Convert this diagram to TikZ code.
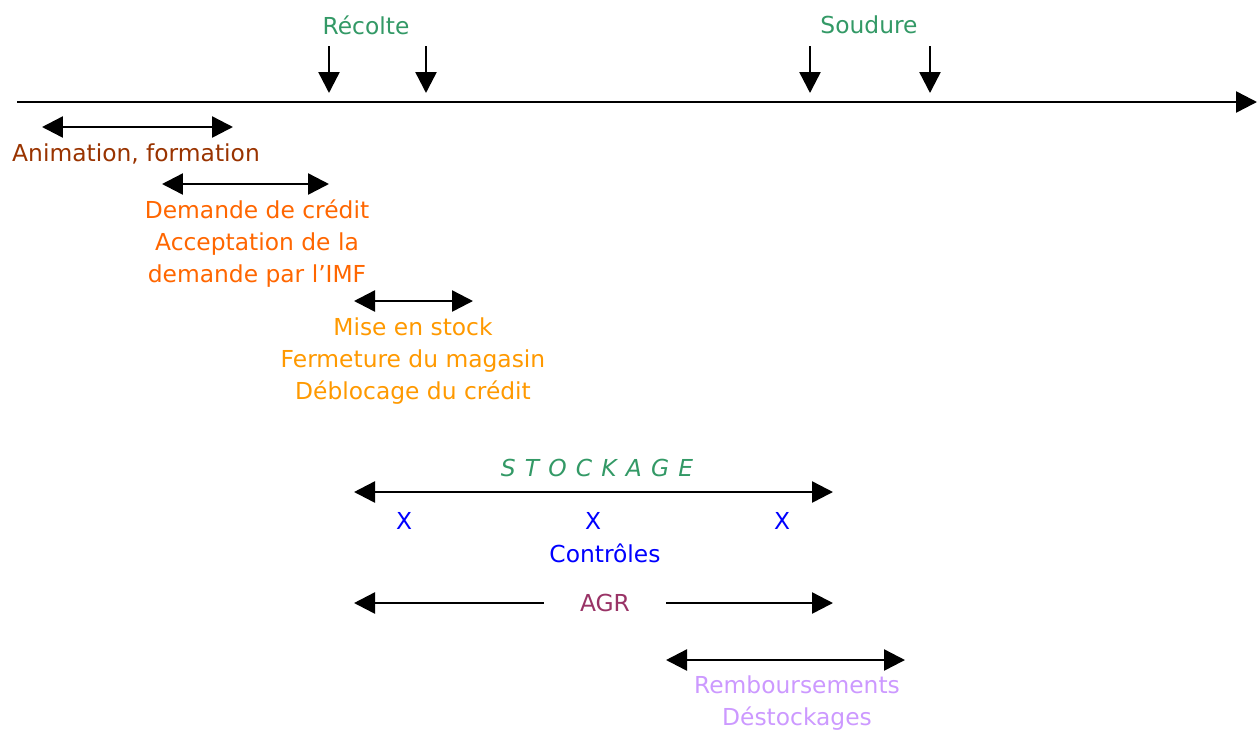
\documentclass[tikz,border=0pt]{standalone}
\usepackage{fontspec}
\setmainfont{DejaVu Sans}
\usetikzlibrary{arrows.meta}
\definecolor{vert}{RGB}{51,153,102}
\definecolor{brun}{RGB}{153,51,0}
\definecolor{orange1}{RGB}{255,102,0}
\definecolor{orange2}{RGB}{255,153,0}
\definecolor{bleu}{RGB}{0,0,255}
\definecolor{prune}{RGB}{153,51,102}
\definecolor{lilas}{RGB}{204,153,255}

\begin{document}
\begin{tikzpicture}[x=0.02cm,y=-0.02cm,
  >={Triangle[length=0.42cm,width=0.42cm]},
  fl/.style={->,line width=1.4pt},
  dur/.style={<->,line width=1.4pt},
  lab/.style={inner sep=0pt,align=center,font=\fontsize{13.3}{18.2}\selectfont}]
 \useasboundingbox (0,0) rectangle (1257,731);

 % axe du temps
 \coordinate (t0) at (17,102);
 \coordinate (t1) at (1257,102);
 \draw[fl] (t0) -- (t1);
 \foreach \x/\n in {329/a,426/b,810/c,930/d}{
  \coordinate (h\n) at (\x,46);
  \coordinate (b\n) at (\x,93);
  \draw[fl] (h\n) -- (b\n);
 }
 \node[lab,text=vert] (rec) at (366,25) {Récolte};
 \node[lab,text=vert] (soud) at (869,25) {Soudure};

 % animation
 \coordinate (an0) at (42,127);
 \coordinate (an1) at (233,127);
 \draw[dur] (an0) -- (an1);
 \node[lab,text=brun] (anim) at (136,154) {Animation, formation};

 % credit
 \coordinate (cr0) at (162,184);
 \coordinate (cr1) at (329,184);
 \draw[dur] (cr0) -- (cr1);
 \node[lab,text=orange1] (dem) at (257,244) {Demande de crédit\\Acceptation de la\\demande par l'IMF};

 % mise en stock
 \coordinate (ms0) at (354,301);
 \coordinate (ms1) at (473,301);
 \draw[dur] (ms0) -- (ms1);
 \node[lab,text=orange2] (mise) at (413,361) {Mise en stock\\Fermeture du magasin\\Déblocage du crédit};

 % stockage
 \node[lab,text=vert,font=\fontsize{13.3}{18.2}\selectfont\itshape] (stock) at (597,468) {S\kern1pt\ T\kern1pt\ O\kern1pt\ C\kern1pt\ K\kern1pt\ A\kern1pt\ G\kern1pt\ E};
 \coordinate (st0) at (354,492);
 \coordinate (st1) at (833,492);
 \draw[dur] (st0) -- (st1);
 \node[lab,text=bleu] (x1) at (404,521) {X};
 \node[lab,text=bleu] (x2) at (593,521) {X};
 \node[lab,text=bleu] (x3) at (782,521) {X};
 \node[lab,text=bleu] (ctrl) at (605,553) {Contrôles};

 % AGR
 \node[lab,text=prune,inner xsep=0.72cm] (agr) at (605,603) {AGR};
 \coordinate (ag0) at (354,603);
 \coordinate (ag1) at (833,603);
 \draw[fl] (agr.west) -- (ag0);
 \draw[fl] (agr.east) -- (ag1);

 % remboursements
 \coordinate (rb0) at (666,660);
 \coordinate (rb1) at (905,660);
 \draw[dur] (rb0) -- (rb1);
 \node[lab,text=lilas] (remb) at (797,703) {Remboursements\\Déstockages};
\end{tikzpicture}
\end{document}
